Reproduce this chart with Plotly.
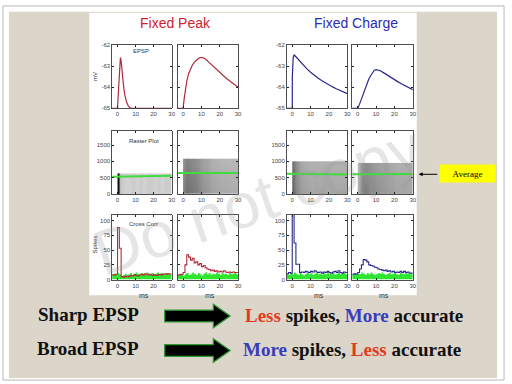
import plotly.graph_objects as go

W, H = 512, 384
def px(x): return x / W
def py(y): return 1 - y / H

# ---------------- data ----------------
panel_titles = ["Fixed Peak", "Fixed Charge"]
x_ticks = [0, 10, 20, 30]
v_ticks = [-65, -64, -63, -62]
v_ticklabels = ["-65", "-64", "-63", "-62"]
raster_ticks = [0, 500, 1000, 1500]
hist_ticks = [0, 25, 50, 75, 100]

# EPSP traces (ms, mV)
epsp_fp_sharp_t = [-3, 0, 0.3, 0.7, 1.0, 1.3, 1.6, 2.0, 2.5, 3.0, 3.5, 4.0, 5.0, 6.0, 7.0, 8.0, 30]
epsp_fp_sharp_v = [-65, -65, -64.5, -63.75, -63.1, -62.7, -62.58, -62.75, -63.28, -63.7, -64.06, -64.35, -64.7, -64.9, -64.98, -65, -65]
epsp_fp_broad_t = [-3, 0, 0.5, 1, 1.5, 2, 3, 4, 5, 6, 7, 8, 9, 10, 11, 12, 14, 16, 18, 20, 22, 24, 26, 28, 30]
epsp_fp_broad_v = [-65, -65, -64.6, -64.25, -63.95, -63.7, -63.35, -63.12, -62.95, -62.82, -62.72, -62.65, -62.6, -62.58, -62.6,
                   -62.64, -62.8, -62.97, -63.14, -63.3, -63.45, -63.6, -63.74, -63.87, -64.0]
epsp_fc_sharp_t = [-3, 0, 0.05, 0.5, 1, 2, 3, 4, 5, 6, 8, 10, 12, 14, 16, 18, 20, 22, 24, 26, 28, 30]
epsp_fc_sharp_v = [-65, -65, -63.5, -62.6, -62.45, -62.55, -62.66, -62.76, -62.86, -62.95, -63.12, -63.28, -63.43, -63.56,
                   -63.68, -63.79, -63.89, -63.98, -64.07, -64.15, -64.22, -64.3]
epsp_fc_broad_t = [-3, 0, 1, 2, 3, 4, 5, 6, 7, 8, 9, 10, 12, 14, 16, 18, 20, 22, 24, 26, 28, 30]
epsp_fc_broad_v = [-65, -65, -64.8, -64.55, -64.3, -64.05, -63.82, -63.62, -63.45, -63.3, -63.2, -63.16, -63.2, -63.3,
                   -63.42, -63.54, -63.64, -63.74, -63.84, -63.93, -64.02, -64.11]

# Raster density (fraction of dark pixels) per time bin and per trial band
raster_t_edges = [0, 1, 2, 4, 6, 8, 10, 12, 14, 16, 18, 20, 22, 24, 26, 28, 30]
raster_fp_sharp_cols = [0.95, 0.25, 0.2, 0.18, 0.18, 0.2, 0.18, 0.2, 0.18, 0.2, 0.2, 0.18, 0.2, 0.18, 0.2, 0.2]
raster_fp_sharp_trials = [0, 300, 630]
raster_fp_sharp_rows = [1.0, 1.0]
raster_fp_broad_cols = [0.5, 0.55, 0.55, 0.52, 0.5, 0.46, 0.42, 0.4, 0.37, 0.35, 0.34, 0.33, 0.33, 0.32, 0.32, 0.32]
raster_fp_broad_trials = [0, 250, 500, 750, 1080]
raster_fp_broad_rows = [1.0, 0.97, 0.94, 0.88]
raster_fc_sharp_cols = [0.6, 0.52, 0.45, 0.38, 0.36, 0.35, 0.34, 0.35, 0.34, 0.35, 0.34, 0.34, 0.34, 0.34, 0.34, 0.34]
raster_fc_sharp_trials = [0, 250, 500, 750, 1000]
raster_fc_sharp_rows = [1.0, 0.97, 0.94, 0.9]
raster_fc_broad_cols = [0.32, 0.42, 0.5, 0.5, 0.46, 0.44, 0.42, 0.4, 0.4, 0.38, 0.37, 0.35, 0.35, 0.35, 0.35, 0.35]
raster_fc_broad_trials = [0, 250, 500, 750, 950]
raster_fc_broad_rows = [1.0, 0.97, 0.94, 0.9]

# Average lines (trial index)
avg_t = [-3, 30]
avg_fp_sharp = [525, 560]
avg_fp_broad = [645, 645]
avg_fc_sharp = [620, 600]
avg_fc_broad = [605, 615]

# Cross-correlation histograms, 1 ms bins (left edges)
hist_t = [-3, -2, -1, 0, 1, 2, 3, 4, 5, 6, 7, 8, 9, 10, 11, 12, 13, 14, 15, 16, 17, 18, 19, 20,
          21, 22, 23, 24, 25, 26, 27, 28, 29, 30]
cc_fp_sharp = [8, 8, 9, 88, 53, 5, 4, 5, 6, 5, 7, 6, 8, 7, 6, 8, 9, 8, 10, 9, 8, 9, 7, 8, 7, 8, 9, 8, 9, 10, 9, 10, 9, 9]
cc_fp_broad = [8, 8, 9, 12, 25, 42, 38, 33, 36, 28, 30, 25, 27, 22, 24, 20, 18, 17, 15, 16, 14, 15, 13, 14, 13, 15, 13,
               12, 13, 12, 13, 12, 12, 12]
cc_fc_sharp = [10, 12, 11, 125, 62, 26, 26, 12, 13, 12, 14, 13, 12, 14, 13, 15, 13, 12, 13, 11, 13, 12, 14, 12, 11, 13,
               14, 12, 15, 12, 11, 13, 12, 12]
cc_fc_broad = [9, 10, 9, 12, 18, 25, 34, 33, 30, 25, 24, 23, 21, 20, 18, 17, 16, 15, 16, 14, 15, 13, 14, 12, 13, 12, 14,
               12, 14, 12, 13, 11, 11, 11]
shuf_fp_sharp = [9, 10, 8, 11, 9, 6, 8, 10, 7, 9, 11, 8, 10, 12, 9, 8, 11, 10, 9, 12, 10, 8, 11, 9, 10, 12, 9, 11, 10, 9, 11, 10, 9, 9]
shuf_fp_broad = [8, 10, 9, 7, 10, 11, 8, 9, 12, 10, 8, 11, 9, 7, 10, 12, 9, 11, 8, 10, 9, 12, 10, 8, 11, 9, 10, 8, 11, 9, 10, 12, 9, 9]
shuf_fc_sharp = [10, 8, 11, 9, 12, 10, 8, 11, 9, 7, 10, 12, 9, 11, 8, 10, 12, 9, 10, 8, 11, 9, 12, 10, 9, 11, 8, 10, 12, 9, 10, 11, 9, 9]
shuf_fc_broad = [9, 11, 8, 10, 9, 12, 10, 8, 11, 9, 12, 10, 8, 9, 11, 10, 12, 9, 8, 10, 11, 9, 10, 12, 9, 8, 11, 10, 9, 11, 10, 9, 10, 10]

RED = "#b22a3a"
BLUE = "#2a2a8c"
GREEN = "#2ee62e"

# ---------------- layout geometry (pixels) ----------------
cols_px = [(113, 173), (179, 240), (289, 350), (355, 416)]
rows_px = [(43, 107), (130, 194), (215, 281)]

fig = go.Figure()

def ax(r, c):
    i = r * 4 + c + 1
    return ("x" if i == 1 else f"x{i}"), ("y" if i == 1 else f"y{i}")

# Row 1: EPSPs
epsp = [(epsp_fp_sharp_t, epsp_fp_sharp_v, RED), (epsp_fp_broad_t, epsp_fp_broad_v, RED),
        (epsp_fc_sharp_t, epsp_fc_sharp_v, BLUE), (epsp_fc_broad_t, epsp_fc_broad_v, BLUE)]
for c, (t, v, col) in enumerate(epsp):
    xa, ya = ax(0, c)
    fig.add_trace(go.Scatter(x=t, y=v, mode="lines", line=dict(color=col, width=1.2),
                             xaxis=xa, yaxis=ya, showlegend=False, hoverinfo="skip"))

# Row 2: rasters
rasters = [(raster_fp_sharp_cols, raster_fp_sharp_trials, raster_fp_sharp_rows, avg_fp_sharp, False),
           (raster_fp_broad_cols, raster_fp_broad_trials, raster_fp_broad_rows, avg_fp_broad, "best"),
           (raster_fc_sharp_cols, raster_fc_sharp_trials, raster_fc_sharp_rows, avg_fc_sharp, "best"),
           (raster_fc_broad_cols, raster_fc_broad_trials, raster_fc_broad_rows, avg_fc_broad, "best")]
for c, (dens, trials, rowf, avg, smooth) in enumerate(rasters):
    xa, ya = ax(1, c)
    z = [[d * f for d in dens] for f in rowf]
    fig.add_trace(go.Heatmap(x=raster_t_edges, y=trials, z=z, zmin=0, zmax=1, zsmooth=smooth,
                             colorscale=[[0, "#ffffff"], [1, "#000000"]], showscale=False,
                             xaxis=xa, yaxis=ya, hoverinfo="skip"))
    fig.add_trace(go.Scatter(x=avg_t, y=avg, mode="lines", line=dict(color="#3fdc3f", width=2),
                             xaxis=xa, yaxis=ya, showlegend=False, hoverinfo="skip"))

# Row 3: cross-correlations
hists = [(cc_fp_sharp, shuf_fp_sharp, RED), (cc_fp_broad, shuf_fp_broad, RED),
         (cc_fc_sharp, shuf_fc_sharp, BLUE), (cc_fc_broad, shuf_fc_broad, BLUE)]
for c, (cc, sh, col) in enumerate(hists):
    xa, ya = ax(2, c)
    fig.add_trace(go.Scatter(x=hist_t, y=sh, mode="lines", line=dict(color=GREEN, width=0, shape="hv"),
                             fill="tozeroy", fillcolor=GREEN, xaxis=xa, yaxis=ya,
                             showlegend=False, hoverinfo="skip"))
    fig.add_trace(go.Scatter(x=hist_t, y=cc, mode="lines", line=dict(color=col, width=1.1, shape="hv"),
                             xaxis=xa, yaxis=ya, showlegend=False, hoverinfo="skip"))

layout = dict(width=W, height=H, margin=dict(l=0, r=0, t=0, b=0),
              paper_bgcolor="#ffffff", plot_bgcolor="rgba(0,0,0,0)", showlegend=False)

yspecs = [dict(range=[-65, -62], tickvals=v_ticks, ticktext=v_ticklabels),
          dict(range=[0, 1930], tickvals=raster_ticks, ticktext=[str(v) for v in raster_ticks]),
          dict(range=[0, 110], tickvals=hist_ticks, ticktext=[str(v) for v in hist_ticks])]
tickfont = dict(size=6, color="#444444", family="Liberation Sans, Arial")
for r in range(3):
    for c in range(4):
        i = r * 4 + c + 1
        sfx = "" if i == 1 else str(i)
        common = dict(ticks="inside", ticklen=2, tickcolor="#222", showline=True, linecolor="#222",
                      linewidth=0.8, mirror="ticks", showgrid=False, zeroline=False, tickfont=tickfont,
                      fixedrange=True)
        layout["xaxis" + sfx] = dict(domain=[px(cols_px[c][0]), px(cols_px[c][1])], range=[-3, 30],
                                     tickvals=x_ticks, anchor="y" + sfx, **common)
        ys = yspecs[r]
        layout["yaxis" + sfx] = dict(domain=[py(rows_px[r][1]), py(rows_px[r][0])], range=ys["range"],
                                     tickvals=ys["tickvals"], ticktext=ys["ticktext"],
                                     showticklabels=(c in (0, 2)), anchor="x" + sfx, **common)
fig.update_layout(**layout)

# ---------------- slide decoration ----------------
shapes = [
    dict(type="rect", xref="paper", yref="paper", x0=px(3), x1=px(508), y0=py(383), y1=py(3),
         fillcolor="#ffffff", line=dict(color="#b8b8b8", width=1), layer="below"),
    dict(type="rect", xref="paper", yref="paper", x0=px(9), x1=px(501), y0=py(381), y1=py(9),
         fillcolor="#dcd5c9", line=dict(width=0), layer="below"),
    dict(type="rect", xref="paper", yref="paper", x0=px(90), x1=px(420), y0=py(297), y1=py(10),
         fillcolor="#ffffff", line=dict(width=0), layer="below"),
]

def arrow_path(x0, x1, xh, yc, shaft_h, head_h):
    pts = [(x0, yc - shaft_h / 2), (xh, yc - shaft_h / 2), (xh, yc - head_h / 2), (x1, yc),
           (xh, yc + head_h / 2), (xh, yc + shaft_h / 2), (x0, yc + shaft_h / 2)]
    return "M " + " L ".join(f"{px(a):.5f},{py(b):.5f}" for a, b in pts) + " Z"

for yc in (318, 353):
    shapes.append(dict(type="path", xref="paper", yref="paper", path=arrow_path(166, 232, 215, yc, 12, 24),
                       fillcolor="#000000", line=dict(color="#2f9a2f", width=1.2)))
fig.update_layout(shapes=shapes)

ann = []
def text(x, y, s, size, color="#000", family="Liberation Sans, Arial", angle=0, xanchor="center", **kw):
    ann.append(dict(xref="paper", yref="paper", x=px(x), y=py(y), text=s, showarrow=False,
                    font=dict(size=size, color=color, family=family), textangle=angle,
                    xanchor=xanchor, yanchor="middle", **kw))

text(177, 20, panel_titles[0], 14, "#d0202e")
text(359, 20, panel_titles[1], 14, "#2b2bb5")
text(142, 49, "EPSP", 6, "#333")
text(145, 140, "Raster Plot", 6, "#333")
text(145, 224, "Cross Corr", 6, "#333")
text(96, 75, "mV", 6, "#333", angle=-90)
text(96, 245, "Spikes", 6, "#333", angle=-90)
for c in range(4):
    text((cols_px[c][0] + cols_px[c][1]) / 2 + 2, 297, "ms", 7, "#333")

serif = "Liberation Serif, Times New Roman"
text(89, 316, "<b>Sharp EPSP</b>", 19, "#111", family=serif)
text(89, 351, "<b>Broad EPSP</b>", 19, "#111", family=serif)
text(357, 317, "<b><span style='color:#e23c1c'>Less</span> spikes, <span style='color:#3b3bbd'>More</span> accurate</b>",
     19, "#111", family=serif)
text(355, 352, "<b><span style='color:#3b3bbd'>More</span> spikes, <span style='color:#e23c1c'>Less</span> accurate</b>",
     19, "#111", family=serif)

# Average label
ann.append(dict(xref="paper", yref="paper", x=px(471.5), y=py(173), text="Average", showarrow=False,
                font=dict(size=9, color="#000", family=serif), bgcolor="#ffff00", width=55, height=17,
                borderpad=0, xanchor="center", yanchor="middle"))
ann.append(dict(xref="paper", yref="paper", x=px(422), y=py(174), text="", showarrow=True,
                ax=20, ay=0, arrowhead=2, arrowsize=0.8, arrowwidth=1, arrowcolor="#000"))

# watermark
text(260, 200, "Do not copy", 64, "rgba(150,150,150,0.25)", angle=-19)

fig.update_layout(annotations=ann)
fig.write_html("out.html", config={"displayModeBar": False, "staticPlot": True})

# remove the browser's default body margin so the figure sits at the window origin
with open("out.html", "r", encoding="utf-8") as f:
    html = f.read()
html = html.replace("<head>", "<head><style>html,body{margin:0;padding:0;overflow:hidden;}</style>", 1)
with open("out.html", "w", encoding="utf-8") as f:
    f.write(html)
